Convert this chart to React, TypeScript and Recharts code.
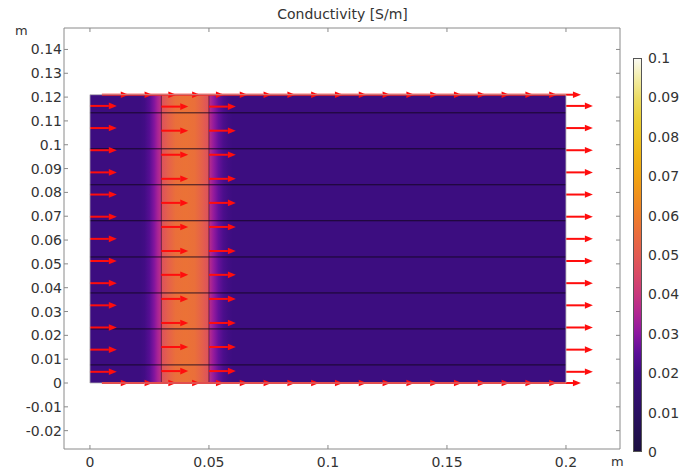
import React from 'react';
import { ComposedChart, XAxis, YAxis, ReferenceArea, ReferenceLine, Scatter } from 'recharts';

const xTicks = [0, 0.05, 0.1, 0.15, 0.2];
const yTicks = [-0.02, -0.01, 0, 0.01, 0.02, 0.03, 0.04, 0.05, 0.06, 0.07, 0.08, 0.09, 0.1, 0.11, 0.12, 0.13, 0.14];
const colorTicks = [0, 0.01, 0.02, 0.03, 0.04, 0.05, 0.06, 0.07, 0.08, 0.09, 0.1];

// conductivity read along x (same on every row)
const profileX = [0, 0.021, 0.023, 0.025, 0.027, 0.0285, 0.0299, 0.0301, 0.033, 0.036, 0.04, 0.044, 0.047, 0.0499, 0.0501, 0.052, 0.054, 0.056, 0.058, 0.06, 0.2];
const profileSigma = [0.02, 0.02, 0.021, 0.024, 0.029, 0.034, 0.038, 0.047, 0.052, 0.056, 0.057, 0.056, 0.052, 0.047, 0.037, 0.031, 0.026, 0.0225, 0.0208, 0.02, 0.02];

// colour table of the legend
const cmapValues = [0, 0.01, 0.02, 0.025, 0.03, 0.035, 0.04, 0.045, 0.05, 0.055, 0.06, 0.065, 0.07, 0.075, 0.08, 0.085, 0.09, 0.095, 0.1];
const cmapColors = ['#1b0f40', '#2a0f62', '#3c0d80', '#5c0e98', '#8c17a0', '#b02692', '#c8387c', '#d84a66', '#e25b52', '#e96b3e', '#ee7d2a', '#f0901c', '#f1a412', '#f0b414', '#eec422', '#ecd036', '#ecdc64', '#f2eca6', '#fafaf2'];

const domainWidth = 0.2;
const domainHeight = 0.121;
const domainOutline = [
  { x: 0, y: 0 },
  { x: 0, y: domainHeight },
  { x: domainWidth, y: domainHeight },
  { x: domainWidth, y: 0 },
  { x: 0, y: 0 },
];
const layerLines = [0.0076, 0.0227, 0.0378, 0.0529, 0.0681, 0.0832, 0.0983, 0.1134];
const stripEdges = [0.03, 0.05];

// current density arrows
const sideRows = [0.0047, 0.014, 0.0233, 0.0326, 0.0419, 0.0512, 0.0605, 0.0698, 0.0791, 0.0884, 0.0977, 0.107, 0.1163];
const stripRows = [0.005, 0.0151, 0.0252, 0.0353, 0.0454, 0.0554, 0.0655, 0.0756, 0.0857, 0.0958, 0.1059, 0.116];
const edgeStarts = [0.005, 0.015, 0.025, 0.035, 0.045, 0.055, 0.065, 0.075, 0.085, 0.095, 0.105, 0.115, 0.125, 0.135, 0.145, 0.155, 0.165, 0.175, 0.185, 0.195];
const arrowLength = 0.0113;

const hexToRgb = (h: string) => [1, 3, 5].map((i) => parseInt(h.slice(i, i + 2), 16));
const colorFor = (v: number) => {
  for (let i = 1; i < cmapValues.length; i++) {
    if (v <= cmapValues[i]) {
      const t = (v - cmapValues[i - 1]) / (cmapValues[i] - cmapValues[i - 1]);
      const a = hexToRgb(cmapColors[i - 1]);
      const b = hexToRgb(cmapColors[i]);
      const c = a.map((q, k) => Math.round(q + (b[k] - q) * t));
      return `rgb(${c[0]},${c[1]},${c[2]})`;
    }
  }
  return cmapColors[cmapColors.length - 1];
};

const arrows = [
  ...sideRows.map((y) => ({ x: 0, y })),
  ...stripRows.map((y) => ({ x: stripEdges[0], y })),
  ...stripRows.map((y) => ({ x: stripEdges[1], y })),
  ...sideRows.map((y) => ({ x: domainWidth, y })),
  ...edgeStarts.map((x) => ({ x, y: 0 })),
  ...edgeStarts.map((x) => ({ x, y: domainHeight })),
];

const fmt = (v: number) => String(Number(v.toFixed(3)));
const font = '"DejaVu Sans", sans-serif';
const frame = '#8a8a8a';
const textColor = '#333';

const Arrow = (p: any) => {
  const { x1, y1, x2, y2 } = p;
  const head = 8;
  const hw = 3.3;
  const xe = x2 - head;
  return (
    <g>
      <line x1={x1} y1={y1} x2={xe} y2={y2} stroke="#ff0d0d" strokeWidth={2} />
      <polygon points={`${xe},${y2 - hw} ${x2},${y2} ${xe},${y2 + hw}`} fill="#ff0d0d" />
    </g>
  );
};

const BottomTick = (p: any) => (
  <g>
    <line x1={p.x} x2={p.x} y1={p.y} y2={p.y - 4} stroke={frame} />
    <text x={p.x} y={p.y + 18} textAnchor="middle" fontSize={14} fill={textColor} fontFamily={font}>
      {fmt(p.payload.value)}
    </text>
  </g>
);
const TopTick = (p: any) => <line x1={p.x} x2={p.x} y1={p.y} y2={p.y + 4} stroke={frame} />;
const LeftTick = (p: any) => (
  <g>
    <line x1={p.x} x2={p.x + 4} y1={p.y} y2={p.y} stroke={frame} />
    <text x={p.x - 2} y={p.y + 5} textAnchor="end" fontSize={14} fill={textColor} fontFamily={font}>
      {fmt(p.payload.value)}
    </text>
  </g>
);
const RightTick = (p: any) => <line x1={p.x} x2={p.x - 4} y1={p.y} y2={p.y} stroke={frame} />;
const NoDot = () => null;

export default function App() {
  const barTop = 58;
  const barHeight = 394;
  const barGradient = `linear-gradient(to top, ${cmapValues.map((v, i) => `${cmapColors[i]} ${(v / 0.1) * 100}%`).join(', ')})`;
  return (
    <div style={{ position: 'relative', width: 683, height: 470, background: '#fff', fontFamily: font }}>
      <style>{'body{margin:0}'}</style>
      <ComposedChart width={683} height={470} margin={{ top: 0, right: 0, bottom: 0, left: 0 }}>
        <defs>
          <linearGradient id="sigma" x1="0" y1="0" x2="1" y2="0">
            {profileX.map((x, i) => (
              <stop key={i} offset={x / domainWidth} stopColor={colorFor(profileSigma[i])} />
            ))}
          </linearGradient>
        </defs>
        <XAxis xAxisId="b" dataKey="x" orientation="bottom" type="number" domain={[-0.0109, 0.2227]} ticks={xTicks} interval={0}
          allowDataOverflow height={21} tickSize={0} tickMargin={0} tickLine={false} axisLine={{ stroke: frame }} tick={BottomTick} />
        <XAxis xAxisId="t" dataKey="x" orientation="top" type="number" domain={[-0.0109, 0.2227]} ticks={xTicks} interval={0}
          allowDataOverflow height={28} tickSize={0} tickMargin={0} tickLine={false} axisLine={{ stroke: frame }} tick={TopTick} />
        <YAxis yAxisId="l" dataKey="y" orientation="left" type="number" domain={[-0.0277, 0.149]} ticks={yTicks} interval={0}
          allowDataOverflow width={64} tickSize={0} tickMargin={0} tickLine={false} axisLine={{ stroke: frame }} tick={LeftTick} />
        <YAxis yAxisId="r" dataKey="y" orientation="right" type="number" domain={[-0.0277, 0.149]} ticks={yTicks} interval={0}
          allowDataOverflow width={63} tickSize={0} tickMargin={0} tickLine={false} axisLine={{ stroke: frame }} tick={RightTick} />

        <ReferenceArea xAxisId="b" yAxisId="l" x1={0} x2={domainWidth} y1={0} y2={domainHeight}
          fill="url(#sigma)" fillOpacity={1} stroke="none" ifOverflow="visible" />
        <Scatter xAxisId="t" yAxisId="r" data={domainOutline} dataKey="y" shape={NoDot} line={{ stroke: '#b4b4b4', strokeWidth: 0.8 }}
          isAnimationActive={false} />
        {layerLines.map((y) => (
          <ReferenceLine key={`h${y}`} xAxisId="b" yAxisId="l" segment={[{ x: 0, y }, { x: domainWidth, y }]}
            stroke="#12061c" strokeOpacity={0.85} strokeWidth={1} ifOverflow="visible" />
        ))}
        {stripEdges.map((x) => (
          <ReferenceLine key={`v${x}`} xAxisId="b" yAxisId="l" segment={[{ x, y: 0 }, { x, y: domainHeight }]}
            stroke="#2a0a2a" strokeOpacity={0.6} strokeWidth={1} ifOverflow="visible" />
        ))}
        {arrows.map((a, i) => (
          <ReferenceLine key={`a${i}`} xAxisId="b" yAxisId="l" segment={[{ x: a.x, y: a.y }, { x: a.x + arrowLength, y: a.y }]}
            shape={Arrow} ifOverflow="visible" />
        ))}
        <Scatter xAxisId="b" yAxisId="l" data={arrows} dataKey="y" shape={NoDot} isAnimationActive={false} />
      </ComposedChart>

      <div style={{ position: 'absolute', left: 0, width: 683, top: 6, textAlign: 'center', fontSize: 14, color: textColor }}>
        <span style={{ position: 'relative', left: 1 }}>Conductivity [S/m]</span>
      </div>
      <div style={{ position: 'absolute', left: 15, top: 23, fontSize: 13, color: textColor }}>m</div>
      <div style={{ position: 'absolute', left: 611, top: 454, fontSize: 13, color: textColor }}>m</div>

      <div style={{ position: 'absolute', left: 633, top: barTop, width: 9, height: barHeight, border: '1px solid #555', boxSizing: 'border-box', background: barGradient }} />
      {colorTicks.map((t) => (
        <div key={t} style={{ position: 'absolute', left: 648, top: barTop + barHeight * (1 - t / 0.1), transform: 'translateY(-50%)', fontSize: 14, color: textColor, lineHeight: '16px' }}>
          {fmt(t)}
        </div>
      ))}
    </div>
  );
}
